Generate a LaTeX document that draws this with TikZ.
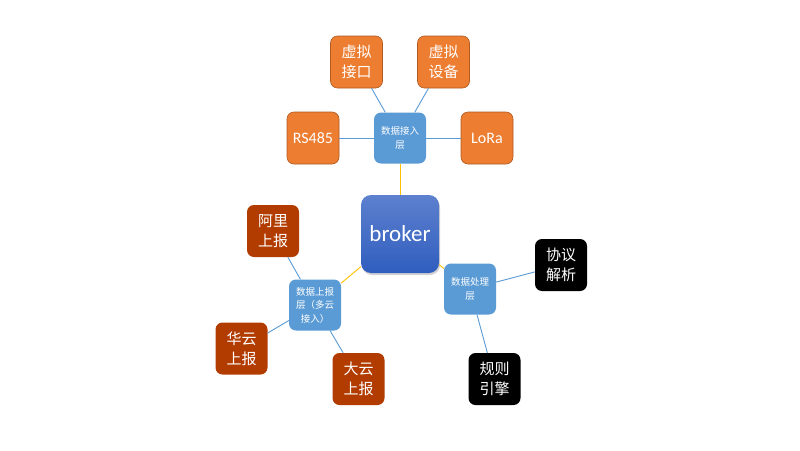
\documentclass[tikz,border=0pt]{standalone}
\usepackage{fontspec}
\setmainfont{Noto Sans CJK SC}
\newfontfamily\latinfont{Carlito}
\usetikzlibrary{shadows}
\definecolor{layerblue}{RGB}{91,155,213}
\definecolor{orangefill}{RGB}{237,125,49}
\definecolor{orangeline}{RGB}{174,90,33}
\definecolor{brownfill}{RGB}{178,60,0}
\definecolor{goldline}{RGB}{255,192,0}
\definecolor{brokertop}{RGB}{93,128,206}
\definecolor{brokerbot}{RGB}{48,94,190}
\tikzset{
  x=1pt, y=-1pt,
  box/.style={rounded corners=7pt, minimum width=52pt, minimum height=52pt, inner sep=0pt, align=center, text=white, font=\fontsize{15}{20}\selectfont},
  layer/.style={box, fill=layerblue, font=\fontsize{9.5}{13.5}\selectfont, minimum width=52pt, minimum height=51pt},
  leaf/.style={box, fill=orangefill, draw=orangeline, line width=0.6pt},
  cloud/.style={box, fill=brownfill},
  dark/.style={box, fill=black},
  sub/.style={draw=layerblue, line width=0.9pt},
  main/.style={draw=goldline, line width=0.9pt},
}
\begin{document}
\begin{tikzpicture}
\useasboundingbox (0,0) rectangle (800,450);
\fill[white] (0,0) rectangle (800,450);
% broker
\node[box, minimum width=78pt, minimum height=78pt, rounded corners=10pt, top color=brokertop, bottom color=brokerbot, drop shadow={shadow xshift=1pt, shadow yshift=-2pt, opacity=0.35}, font=\latinfont\fontsize{23}{26}\selectfont] (broker) at (400,234) {broker};
% layers
\node[layer] (in) at (400,138) {数据接入\\层};
\node[layer] (up) at (315,305) {数据上报\\层（多云\\接入）};
\node[layer] (proc) at (470,289) {数据处理\\层};
% leaves
\node[leaf] (vif) at (356.5,62) {虚拟\\接口};
\node[leaf] (vdev) at (443.5,62) {虚拟\\设备};
\node[leaf, font=\latinfont\fontsize{16}{18}\selectfont] (rs) at (313,138) {RS485};
\node[leaf, font=\latinfont\fontsize{16}{18}\selectfont] (lora) at (487,138) {LoRa};
\node[cloud] (ali) at (273,231) {阿里\\上报};
\node[cloud] (hua) at (241.5,348.5) {华云\\上报};
\node[cloud] (da) at (358.5,379) {大云\\上报};
\node[dark] (proto) at (561,265) {协议\\解析};
\node[dark] (rule) at (494.5,379) {规则\\引擎};
% connectors
\draw[main] (broker) -- (in);
\draw[main] (broker) -- (up);
\draw[main] (broker) -- (proc);
\draw[sub] (in) -- (vif);
\draw[sub] (in) -- (vdev);
\draw[sub] (in) -- (rs);
\draw[sub] (in) -- (lora);
\draw[sub] (up) -- (ali);
\draw[sub] (up) -- (hua);
\draw[sub] (up) -- (da);
\draw[sub] (proc) -- (proto);
\draw[sub] (proc) -- (rule);
\end{tikzpicture}
\end{document}
